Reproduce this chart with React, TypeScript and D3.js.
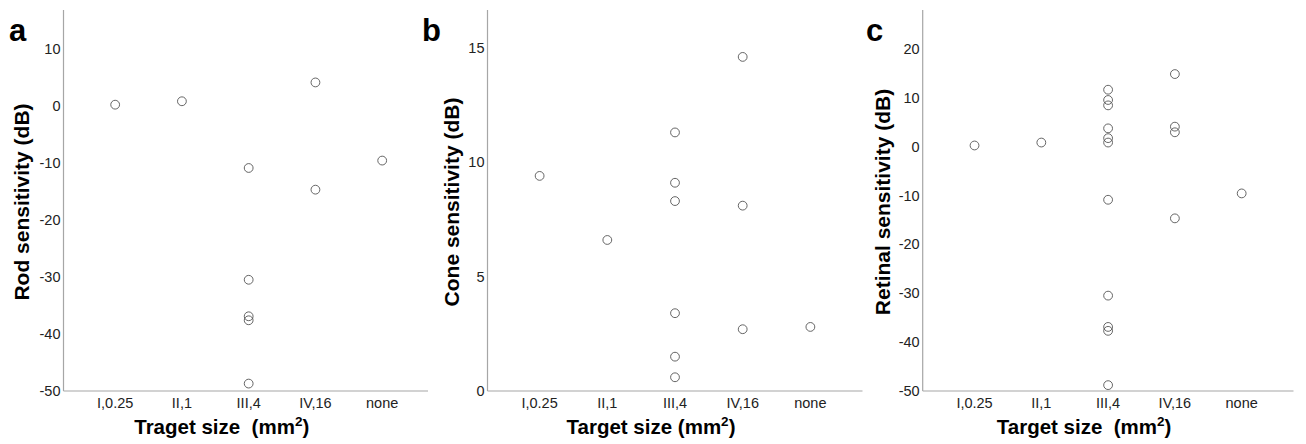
import React from "react";
import * as d3 from "d3";

const categories = ["I,0.25", "II,1", "III,4", "IV,16", "none"];

// Panel a: Rod sensitivity
const rodCats = ["I,0.25", "II,1", "III,4", "III,4", "III,4", "III,4", "III,4", "IV,16", "IV,16", "none"];
const rodValues = [0.2, 0.8, -10.9, -30.5, -36.9, -37.6, -48.7, 4.1, -14.7, -9.6];
const rodTicks = [10, 0, -10, -20, -30, -40, -50];

// Panel b: Cone sensitivity
const coneCats = ["I,0.25", "II,1", "III,4", "III,4", "III,4", "III,4", "III,4", "III,4", "IV,16", "IV,16", "IV,16", "none"];
const coneValues = [9.4, 6.6, 11.3, 9.1, 8.3, 3.4, 1.5, 0.6, 14.6, 8.1, 2.7, 2.8];
const coneTicks = [15, 10, 5, 0];

// Panel c: Retinal sensitivity
const retCats = ["I,0.25", "II,1", "III,4", "III,4", "III,4", "III,4", "III,4", "III,4", "III,4", "III,4", "III,4", "III,4", "III,4", "IV,16", "IV,16", "IV,16", "IV,16", "none"];
const retValues = [0.2, 0.8, 11.6, 9.5, 8.4, 3.7, 1.7, 0.8, -10.9, -30.5, -36.9, -37.7, -48.8, 14.8, 4.05, 2.9, -14.7, -9.6];
const retTicks = [20, 10, 0, -10, -20, -30, -40, -50];

const FONT = "'Liberation Sans', Arial, Helvetica, sans-serif";

type PanelProps = {
  letter: string;
  letterX: number;
  x0: number;
  x1: number;
  padding: number;
  align: number;
  yDomain: [number, number];
  ticks: number[];
  cats: string[];
  values: number[];
  yTitle: string;
  yTitleX: number;
  xTitle: string;
  xTitleGap: boolean;
};

function Panel(p: PanelProps) {
  const top = 10;
  const bottom = 391;
  const x = d3.scalePoint<string>().domain(categories).range([p.x0, p.x1]).padding(p.padding).align(p.align);
  const y = d3.scaleLinear().domain(p.yDomain).range([bottom, top]);
  const titleCx = (p.x0 + p.x1) / 2 - 24;
  return (
    <g>
      <text x={p.letterX} y={41} fontFamily={FONT} fontWeight="bold" fontSize={31} fill="#000">
        {p.letter}
      </text>
      <line x1={p.x0} x2={p.x0} y1={top} y2={bottom} stroke="#a6a6a6" strokeWidth={1.2} />
      <line x1={p.x0} x2={p.x1} y1={bottom} y2={bottom} stroke="#a6a6a6" strokeWidth={1.2} />
      {p.ticks.map((t) => (
        <text key={t} x={p.x0 - 3} y={y(t)} dy="0.36em" textAnchor="end" fontFamily={FONT} fontSize={14.5} fill="#222">
          {t}
        </text>
      ))}
      {categories.map((c) => (
        <text key={c} x={x(c)} y={bottom + 17} textAnchor="middle" fontFamily={FONT} fontSize={14.5} fill="#222">
          {c}
        </text>
      ))}
      {p.values.map((v, i) => (
        <circle key={i} cx={x(p.cats[i])} cy={y(v)} r={4.4} fill="none" stroke="#555" strokeWidth={0.9} />
      ))}
      <text
        transform={`translate(${p.yTitleX},202) rotate(-90)`}
        textAnchor="middle"
        fontFamily={FONT}
        fontWeight="bold"
        fontSize={21}
        fill="#000"
      >
        {p.yTitle}
      </text>
      <text x={titleCx} y={434} textAnchor="middle" fontFamily={FONT} fontWeight="bold" fontSize={20.5} fill="#000" xmlSpace="preserve">
        {p.xTitle}
        {p.xTitleGap ? "  (mm" : " (mm"}
        <tspan fontSize={13.5} dy={-8}>2</tspan>
        <tspan dy={8}>)</tspan>
      </text>
    </g>
  );
}

export default function App() {
  return (
    <svg width={1306} height={444} style={{ position: "absolute", left: 0, top: 0, background: "#fff" }}>
      <rect width={1306} height={444} fill="#fff" />
      <Panel
        letter="a"
        letterX={9}
        x0={63.5}
        x1={428}
        padding={0.73}
        align={0.53}
        yDomain={[-50, 16.8]}
        ticks={rodTicks}
        cats={rodCats}
        values={rodValues}
        yTitle="Rod sensitivity (dB)"
        yTitleX={29}
        xTitle="Traget size"
        xTitleGap={true}
      />
      <Panel
        letter="b"
        letterX={422}
        x0={487.5}
        x1={862.5}
        padding={0.77}
        align={0.5}
        yDomain={[0, 16.65]}
        ticks={coneTicks}
        cats={coneCats}
        values={coneValues}
        yTitle="Cone sensitivity (dB)"
        yTitleX={459}
        xTitle="Target size"
        xTitleGap={false}
      />
      <Panel
        letter="c"
        letterX={866}
        x0={922.7}
        x1={1293.5}
        padding={0.776}
        align={0.5}
        yDomain={[-50, 27.9]}
        ticks={retTicks}
        cats={retCats}
        values={retValues}
        yTitle="Retinal sensitivity (dB)"
        yTitleX={890}
        xTitle="Target size"
        xTitleGap={true}
      />
    </svg>
  );
}
